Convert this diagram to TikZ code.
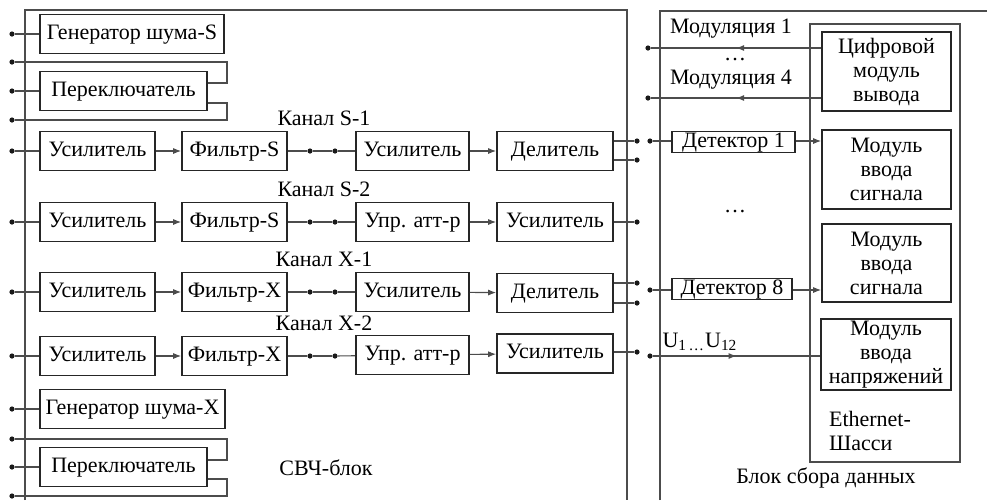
\documentclass[tikz,border=0pt]{standalone}
\usepackage{fontspec}
\setmainfont{Liberation Serif}
\usetikzlibrary{arrows.meta,decorations.markings}

\tikzset{
  box/.style={draw=black!85, line width=0.8pt, inner sep=1pt, align=center},
  blk/.style={box, minimum height=19.5pt, text height=7.5pt, text depth=2.4pt},
  modblk/.style={box, minimum width=64.5pt},
  jn/.style={circle, fill=black!90, inner sep=0pt, minimum size=2.6pt},
  wire/.style={draw=black!70, line width=0.55pt},
  arr/.style={wire, -{Latex[length=4pt,width=3pt]}},
  midarr/.style={wire, postaction={decorate},
    decoration={markings, mark=at position 0.5 with {\arrow{Latex[length=4pt,width=3pt]}}}},
  blockedge/.style={draw=black!70, line width=0.9pt},
}

\begin{document}
\begin{tikzpicture}[x=0.5pt, y=-0.5pt, font=\fontsize{11}{12}\selectfont]
\useasboundingbox (0,0) rectangle (987,500);

% frames of the two units and the chassis
\draw[blockedge] (25,500) -- (25,10) -- (627,10) -- (627,500);
\draw[blockedge] (660,500) -- (660,11) -- (987,11);
\draw[blockedge] (810,24) rectangle (960,462);

% noise generator and switch, band S
\node[blk, minimum width=92pt] (genS) at (132,34) {Генератор шума-S};
\node[jn] (genSin) at (12,34) {};
\draw[wire] (genSin) -- (genS);

\node[blk, minimum width=83.5pt] (swS) at (123.5,91) {Переключатель};
\node[jn] (swSa) at (12,62) {};
\node[jn] (swSb) at (12,91) {};
\node[jn] (swSc) at (12,120) {};
\draw[wire] (swSb) -- (swS);
\draw[wire] (swSa) -- (227,62) |- ([yshift=4pt]swS.east);
\draw[wire] ([yshift=-6pt]swS.east) -| (227,120) -- (swSc);

% input part of the four channels
\foreach \i/\y/\f/\k in {1/151/S/S-1, 2/222/S/S-2, 3/292/X/X-1, 4/356/X/X-2} {
  \node[jn] (in\i) at (12,\y) {};
  \node[blk, minimum width=57.5pt] (ampA\i) at (97.5,\y) {Усилитель};
  \node[blk, minimum width=52.5pt] (flt\i) at (234.5,\y) {Фильтр-\f};
  \node[jn] (ja\i) at (310,\y) {};
  \node[jn] (jb\i) at (335,\y) {};
  \node (ch\i) at (324,\y-33) {Канал \k};
  \draw[wire] (in\i) -- (ampA\i);
  \draw[arr] (ampA\i) -- (flt\i);
  \draw[wire] (flt\i) -- (ja\i) -- (jb\i);
}

% channel S-1
\node[blk, minimum width=56.5pt] (ampB1) at (412.5,151) {Усилитель};
\node[blk, minimum width=58pt] (div1) at (555,151) {Делитель};
\draw[wire] (jb1) -- (ampB1);
\draw[arr] (ampB1) -- (div1);
\node[jn] (o1a) at (637,141) {};
\node[jn] (o1b) at (637,160) {};
\draw[wire] (div1.east |- o1a) -- (o1a);
\draw[wire] (div1.east |- o1b) -- (o1b);

% channel S-2
\node[blk, minimum width=56.5pt] (upr2) at (412.5,222) {Упр. атт-р};
\node[blk, minimum width=58pt] (ampC2) at (555,222) {Усилитель};
\draw[wire] (jb2) -- (upr2);
\draw[arr] (upr2) -- (ampC2);
\node[jn] (o2) at (637,222) {};
\draw[wire] (ampC2) -- (o2);

% channel X-1
\node[blk, minimum width=56.5pt] (ampB3) at (412.5,292) {Усилитель};
\node[blk, minimum width=58pt] (div3) at (555,293) {Делитель};
\draw[wire] (jb3) -- (ampB3);
\draw[arr] (ampB3) -- (div3);
\node[jn] (o3a) at (637,283) {};
\node[jn] (o3b) at (637,303) {};
\draw[wire] (div3.east |- o3a) -- (o3a);
\draw[wire] (div3.east |- o3b) -- (o3b);

% channel X-2
\node[blk, minimum width=56.5pt] (upr4) at (412.5,355) {Упр. атт-р};
\node[blk, minimum width=58pt] (ampC4) at (555,353.5) {Усилитель};
\draw[wire] (jb4) -- (upr4);
\draw[arr] (upr4) -- (ampC4);
\node[jn] (o4) at (637,352) {};
\draw[wire] (ampC4.east |- o4) -- (o4);

% noise generator and switch, band X
\node[blk, minimum width=92.5pt] (genX) at (132.5,409) {Генератор шума-X};
\node[jn] (genXin) at (12,409) {};
\draw[wire] (genXin) -- (genX);

\node[blk, minimum width=83.5pt] (swX) at (123.5,467) {Переключатель};
\node[jn] (swXa) at (12,439) {};
\node[jn] (swXb) at (12,467) {};
\node[jn] (swXc) at (12,496) {};
\draw[wire] (swXb) -- (swX);
\draw[wire] (swXa) -- (227,439) |- ([yshift=3.5pt]swX.east);
\draw[wire] ([yshift=-6pt]swX.east) -| (227,496) -- (swXc);

\node (mw) at (326,468) {СВЧ-блок};

% chassis modules
\node[modblk, minimum height=39.5pt] (dout) at (886.5,71.5) {Цифровой\\модуль\\вывода};
\node[modblk, minimum height=39.5pt] (sig1) at (886.5,169.5) {Модуль\\ввода\\сигнала};
\node[modblk, minimum height=39pt] (sig2) at (886.5,263) {Модуль\\ввода\\сигнала};
\node[modblk, minimum width=65pt, minimum height=35.5pt, inner sep=0.5pt] (volt) at (886,354.5) {Модуль\\ввода\\напряжений};
\node[align=left, anchor=west] (eth) at (822,431) {Ethernet-\\Шасси};
\node (daq) at (826,478) {Блок сбора данных};

% modulation outputs
\node[jn] (m1) at (648,48) {};
\node[jn] (m4) at (648,98) {};
\draw[midarr] (dout.west |- m1) -- (m1);
\draw[midarr] (dout.west |- m4) -- (m4);
\node (m1lbl) at (731,29) {Модуляция 1};
\node (mdots) at (735,60) {\dots};
\node (m4lbl) at (731,80) {Модуляция 4};

% detectors
\node[jn] (x1) at (650,141) {};
\node[blk, minimum width=61.5pt, minimum height=10.5pt, inner sep=0pt] (det1) at (733.5,142) {Детектор 1};
\draw[wire] (x1) -- (det1.west |- x1);
\draw[arr] (det1.east |- x1) -- (sig1.west |- x1);
\node (ddots) at (735,212) {\dots};
\node[jn] (x3) at (650,290) {};
\node[blk, minimum width=60pt, minimum height=10.5pt, inner sep=0pt] (det8) at (732,289) {Детектор 8};
\draw[wire] (x3) -- (det8.west |- x3);
\draw[arr] (det8.east |- x3) -- (sig2.west |- x3);

% voltages
\node[jn] (x4) at (650,356) {};
\draw[midarr] (x4) -- (volt.west |- x4);
\node (ulbl) at (700,342) {U\textsubscript{1\,\dots}U\textsubscript{12}};
\end{tikzpicture}
\end{document}
